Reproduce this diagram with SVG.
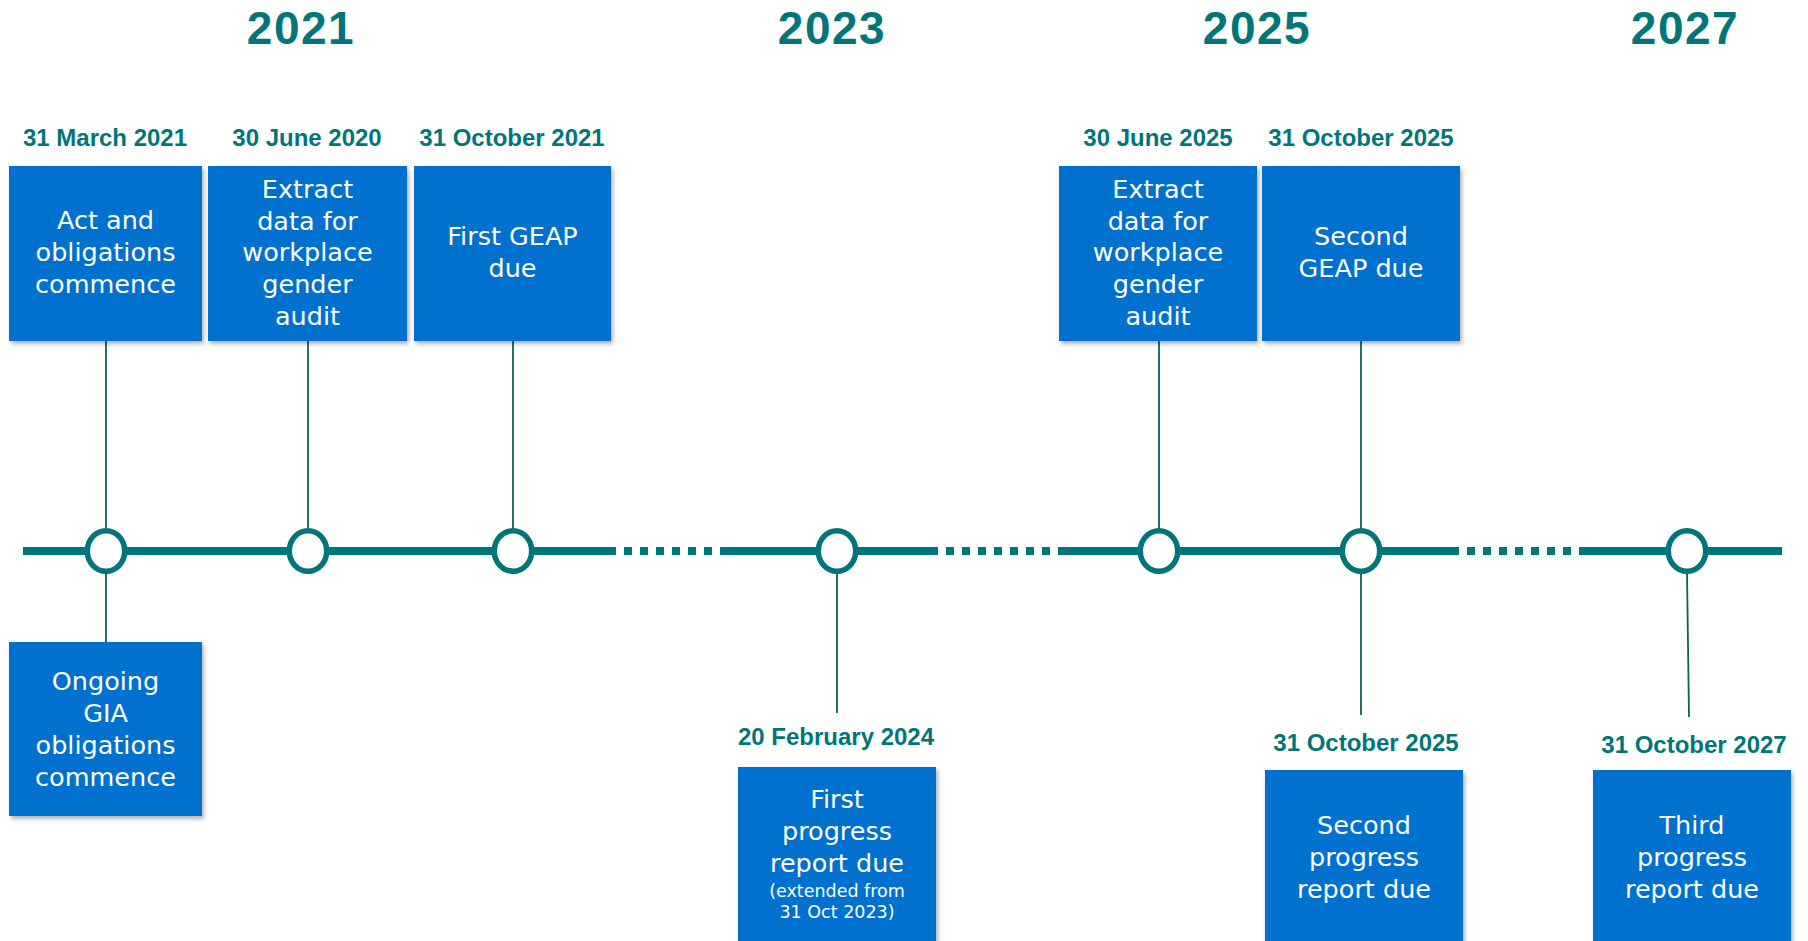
<svg xmlns="http://www.w3.org/2000/svg" width="1808" height="941" viewBox="0 0 1808 941">
<style>
.year{font-family:"Liberation Sans",Arial,sans-serif;font-weight:700;font-size:46px;fill:#00767a;text-anchor:middle;letter-spacing:1.5px}
.date{font-family:"Liberation Sans",Arial,sans-serif;font-weight:700;font-size:24px;fill:#00767a;text-anchor:middle}
.box{fill:#0071ce;filter:url(#sh)}
.bt{font-family:"DejaVu Sans","Liberation Sans",sans-serif;font-size:25.5px;fill:#ffffff;text-anchor:middle}
.st{font-family:"DejaVu Sans","Liberation Sans",sans-serif;font-size:17.5px;fill:#ffffff;text-anchor:middle}
.tl{stroke:#00767a;stroke-width:8;fill:none}
.dot{stroke:#00767a;stroke-width:8;fill:none;stroke-dasharray:8 8}
.con{stroke:#0d5f60;stroke-width:1.8;fill:none}
.ms{fill:#ffffff;stroke:#00767a;stroke-width:5.5}
</style>
<defs>
<filter id="sh" x="-10%" y="-10%" width="125%" height="125%">
<feDropShadow dx="2" dy="3" stdDeviation="2" flood-color="#000000" flood-opacity="0.3"/>
</filter>
</defs>
<rect width="1808" height="941" fill="#ffffff"/>
<g id="years">
<text class="year" x="301" y="44">2021</text>
<text class="year" x="832" y="44">2023</text>
<text class="year" x="1257" y="44">2025</text>
<text class="year" x="1685" y="44">2027</text>
</g>
<g id="connectors">
<line class="con" x1="106" y1="341" x2="106" y2="530"/>
<line class="con" x1="308" y1="341" x2="308" y2="530"/>
<line class="con" x1="513" y1="341" x2="513" y2="530"/>
<line class="con" x1="1159" y1="341" x2="1159" y2="530"/>
<line class="con" x1="1361" y1="341" x2="1361" y2="530"/>
<line class="con" x1="106" y1="572" x2="106" y2="642"/>
<line class="con" x1="837" y1="572" x2="837" y2="713"/>
<line class="con" x1="1361" y1="572" x2="1361" y2="715"/>
<line class="con" x1="1687" y1="572" x2="1689" y2="717"/>
</g>
<g id="timeline">
<line class="tl" x1="23" y1="551" x2="608" y2="551"/>
<line class="dot" x1="608" y1="551" x2="720" y2="551"/>
<line class="tl" x1="720" y1="551" x2="930" y2="551"/>
<line class="dot" x1="930" y1="551" x2="1058" y2="551"/>
<line class="tl" x1="1058" y1="551" x2="1451" y2="551"/>
<line class="dot" x1="1451" y1="551" x2="1579" y2="551"/>
<line class="tl" x1="1579" y1="551" x2="1782" y2="551"/>
</g>
<g id="milestones">
<ellipse class="ms" cx="106" cy="551" rx="18.7" ry="20.2"/>
<ellipse class="ms" cx="308" cy="551" rx="18.7" ry="20.2"/>
<ellipse class="ms" cx="513" cy="551" rx="18.7" ry="20.2"/>
<ellipse class="ms" cx="837" cy="551" rx="18.7" ry="20.2"/>
<ellipse class="ms" cx="1159" cy="551" rx="18.7" ry="20.2"/>
<ellipse class="ms" cx="1361" cy="551" rx="18.7" ry="20.2"/>
<ellipse class="ms" cx="1687" cy="551" rx="18.7" ry="20.2"/>
</g>
<g id="n1">
<text class="date" x="105" y="146">31 March 2021</text>
<rect class="box" x="9" y="166" width="193" height="175"/>
<text class="bt" x="105.5" y="229">Act and</text>
<text class="bt" x="105.5" y="261">obligations</text>
<text class="bt" x="105.5" y="293">commence</text>
</g>
<g id="n2">
<text class="date" x="307" y="146">30 June 2020</text>
<rect class="box" x="208" y="166" width="199" height="175"/>
<text class="bt" x="307.5" y="198">Extract</text>
<text class="bt" x="307.5" y="230">data for</text>
<text class="bt" x="307.5" y="261">workplace</text>
<text class="bt" x="307.5" y="293">gender</text>
<text class="bt" x="307.5" y="325">audit</text>
</g>
<g id="n3">
<text class="date" x="512" y="146">31 October 2021</text>
<rect class="box" x="414" y="166" width="197" height="175"/>
<text class="bt" x="512.5" y="245">First GEAP</text>
<text class="bt" x="512.5" y="277">due</text>
</g>
<g id="n4">
<text class="date" x="1158" y="146">30 June 2025</text>
<rect class="box" x="1059" y="166" width="198" height="175"/>
<text class="bt" x="1158" y="198">Extract</text>
<text class="bt" x="1158" y="230">data for</text>
<text class="bt" x="1158" y="261">workplace</text>
<text class="bt" x="1158" y="293">gender</text>
<text class="bt" x="1158" y="325">audit</text>
</g>
<g id="n5">
<text class="date" x="1361" y="146">31 October 2025</text>
<rect class="box" x="1262" y="166" width="198" height="175"/>
<text class="bt" x="1361" y="245">Second</text>
<text class="bt" x="1361" y="277">GEAP due</text>
</g>
<g id="n6">
<rect class="box" x="9" y="642" width="193" height="174"/>
<text class="bt" x="105.5" y="690">Ongoing</text>
<text class="bt" x="105.5" y="722">GIA</text>
<text class="bt" x="105.5" y="754">obligations</text>
<text class="bt" x="105.5" y="786">commence</text>
</g>
<g id="n7">
<text class="date" x="836" y="745">20 February 2024</text>
<rect class="box" x="738" y="767" width="198" height="190"/>
<text class="bt" x="837" y="808">First</text>
<text class="bt" x="837" y="840">progress</text>
<text class="bt" x="837" y="872">report due</text>
<text class="st" x="837" y="897">(extended from</text>
<text class="st" x="837" y="918">31 Oct 2023)</text>
</g>
<g id="n8">
<text class="date" x="1366" y="751">31 October 2025</text>
<rect class="box" x="1265" y="770" width="198" height="190"/>
<text class="bt" x="1364" y="834">Second</text>
<text class="bt" x="1364" y="866">progress</text>
<text class="bt" x="1364" y="898">report due</text>
</g>
<g id="n9">
<text class="date" x="1694" y="753">31 October 2027</text>
<rect class="box" x="1593" y="770" width="198" height="190"/>
<text class="bt" x="1692" y="834">Third</text>
<text class="bt" x="1692" y="866">progress</text>
<text class="bt" x="1692" y="898">report due</text>
</g>
</svg>
